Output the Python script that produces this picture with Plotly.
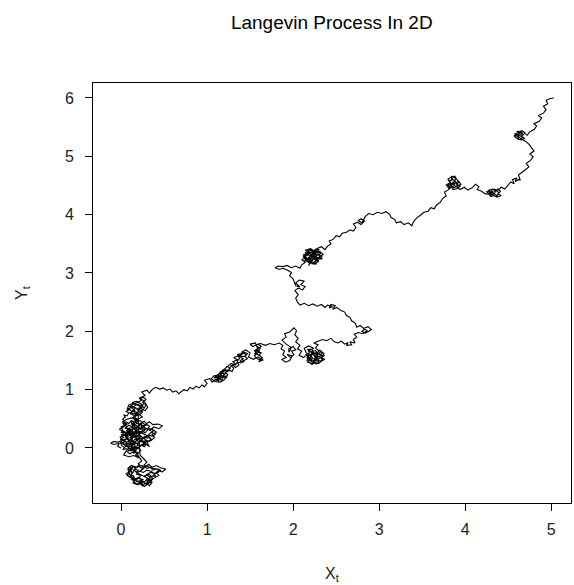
import plotly.graph_objects as go

# Path, split into segments of (x, y) in data units
seg_a = [(0.00,0.00),(-0.04,0.03),(-0.02,0.08),(-0.08,0.06),(-0.12,0.08),(-0.09,0.11),(-0.03,0.10),(0.02,0.14),(-0.01,0.19),(0.04,0.22),(0.01,0.27),(0.07,0.25),(0.10,0.30),(0.05,0.34),(0.09,0.39),(0.14,0.36),(0.12,0.44),(0.17,0.47),(0.13,0.52),(0.06,0.49),(0.02,0.45),(0.07,0.41),(0.03,0.36),(-0.02,0.32),(0.03,0.28),(0.08,0.20),(0.13,0.24),(0.17,0.18),(0.22,0.22),(0.20,0.29),(0.26,0.27),(0.29,0.34),(0.34,0.30),(0.38,0.36),(0.44,0.33),(0.48,0.38),(0.43,0.41),(0.37,0.40),(0.33,0.45),(0.28,0.40),(0.24,0.44),(0.21,0.37),(0.16,0.31),(0.19,0.25),(0.25,0.18),(0.31,0.21),(0.35,0.14),(0.29,0.10),(0.24,0.13),(0.20,0.07),(0.15,0.11),(0.11,0.05),(0.06,0.08),(0.08,0.01),(0.13,-0.03),(0.18,0.02),(0.23,-0.04),(0.20,-0.09),(0.15,-0.06),(0.10,-0.10),(0.06,-0.05),(0.03,-0.12),(0.09,-0.15),(0.15,-0.13),(0.21,-0.17)]

seg_a2 = [(0.17,-0.12),(0.19,-0.07),(0.14,-0.09),(0.16,-0.03),(0.11,-0.05),(0.13,0.01),(0.08,-0.02),(0.10,0.04),(0.05,0.02),(0.07,0.08),(0.02,0.06),(0.04,0.12),(-0.01,0.15),(0.03,0.18),(0.00,0.23),(0.05,0.21),(0.09,0.26),(0.06,0.30),(0.11,0.28),(0.08,0.34),(0.13,0.31),(0.16,0.37),(0.12,0.41),(0.17,0.44),(0.21,0.40),(0.18,0.35),(0.23,0.32),(0.26,0.37),(0.22,0.42),(0.27,0.46),(0.30,0.41),(0.26,0.36),(0.31,0.31),(0.28,0.26),(0.24,0.29),(0.20,0.24),(0.23,0.19),(0.18,0.16),(0.14,0.21),(0.17,0.26),(0.12,0.29),(0.09,0.24),(0.13,0.18),(0.10,0.13),(0.15,0.09),(0.19,0.14),(0.16,0.19),(0.21,0.23),(0.25,0.18),(0.22,0.12),(0.27,0.09),(0.24,0.04),(0.29,0.07),(0.33,0.02),(0.30,0.10),(0.35,0.13),(0.39,0.18),(0.36,0.23),(0.41,0.27),(0.38,0.31),(0.34,0.26),(0.31,0.21),(0.27,0.16),(0.30,0.11),(0.25,0.06),(0.21,0.03),(0.18,0.08),(0.14,0.05),(0.11,0.10),(0.07,0.07),(0.04,0.13),(0.08,0.17),(0.05,0.22),(0.10,0.25),(0.14,0.20),(0.11,0.15),(0.16,0.09),(0.12,0.03),(0.18,-0.02)]

seg_a3 = [(0.02,0.50),(0.05,0.53),(0.03,0.57),(0.07,0.55),(0.09,0.60),(0.06,0.63),(0.10,0.66),(0.13,0.62),(0.11,0.58),(0.15,0.60),(0.18,0.57),(0.16,0.52),(0.20,0.49),(0.18,0.45),(0.22,0.47),(0.25,0.44),(0.23,0.40),(0.27,0.38),(0.30,0.40),(0.33,0.37),(0.31,0.33),(0.35,0.33),(0.38,0.30),(0.36,0.26),(0.40,0.24),(0.37,0.20),(0.33,0.22),(0.31,0.17),(0.27,0.19),(0.25,0.15),(0.21,0.17),(0.19,0.13),(0.16,0.15),(0.14,0.11),(0.10,0.13),(0.07,0.10),(0.04,0.12),(0.02,0.08),(-0.01,0.10),(0.01,0.04),(0.04,0.01),(0.02,-0.03),(0.06,-0.01),(0.09,-0.05),(0.12,-0.01),(0.15,0.02),(0.18,-0.02),(0.21,0.01),(0.24,0.05),(0.27,0.02),(0.29,0.06),(0.26,0.10),(0.29,0.14),(0.32,0.11),(0.35,0.15),(0.33,0.19),(0.28,0.23),(0.25,0.26),(0.21,0.28),(0.18,0.25),(0.15,0.28),(0.12,0.25),(0.09,0.29),(0.06,0.26),(0.03,0.29),(0.00,0.26),(0.02,0.31),(0.00,0.36),(0.04,0.39),(0.02,0.43),(0.06,0.45),(0.09,0.42),(0.12,0.47),(0.15,0.44),(0.13,0.39),(0.17,0.40),(0.19,0.35),(0.15,0.33),(0.12,0.35),(0.08,0.33),(0.11,0.30),(0.15,0.24),(0.18,0.20),(0.22,0.24),(0.25,0.30),(0.28,0.33),(0.24,0.36),(0.20,0.32),(0.17,0.29),(0.12,0.19),(0.08,0.16),(0.05,0.19),(0.08,0.23),(0.04,0.23)]

seg_b = [(0.24,-0.22),(0.20,-0.27),(0.23,-0.31),(0.17,-0.33),(0.12,-0.30),(0.08,-0.35),(0.11,-0.40),(0.06,-0.44),(0.09,-0.49),(0.14,-0.47),(0.16,-0.53),(0.21,-0.50),(0.24,-0.56),(0.20,-0.60),(0.25,-0.63),(0.30,-0.60),(0.33,-0.65),(0.36,-0.59),(0.31,-0.55),(0.34,-0.50),(0.29,-0.46),(0.34,-0.42),(0.40,-0.44),(0.43,-0.39),(0.48,-0.41),(0.52,-0.36),(0.46,-0.34),(0.41,-0.30),(0.36,-0.33),(0.32,-0.28),(0.28,-0.33),(0.24,-0.38),(0.19,-0.42),(0.15,-0.38),(0.13,-0.44)]

seg_b3 = [(0.10,-0.33),(0.13,-0.36),(0.10,-0.40),(0.14,-0.42),(0.11,-0.46),(0.15,-0.49),(0.12,-0.53),(0.16,-0.55),(0.19,-0.52),(0.18,-0.58),(0.22,-0.56),(0.23,-0.61),(0.26,-0.58),(0.29,-0.62),(0.31,-0.57),(0.34,-0.60),(0.33,-0.54),(0.37,-0.53),(0.35,-0.49),(0.40,-0.48),(0.38,-0.43),(0.43,-0.42),(0.46,-0.38),(0.42,-0.36),(0.37,-0.38),(0.34,-0.33),(0.30,-0.35),(0.27,-0.31),(0.23,-0.34),(0.20,-0.30),(0.17,-0.35),(0.14,-0.32),(0.11,-0.37),(0.08,-0.38),(0.10,-0.43),(0.07,-0.47),(0.11,-0.50),(0.14,-0.56),(0.18,-0.62),(0.21,-0.59),(0.25,-0.65),(0.28,-0.60),(0.32,-0.63),(0.30,-0.56),(0.36,-0.56)]

seg_b2 = [(0.17,-0.41),(0.15,-0.36),(0.20,-0.38),(0.18,-0.45),(0.23,-0.47),(0.20,-0.52),(0.26,-0.54),(0.22,-0.58),(0.28,-0.57),(0.31,-0.52),(0.27,-0.48),(0.32,-0.45),(0.36,-0.49),(0.39,-0.45),(0.35,-0.40),(0.30,-0.38),(0.26,-0.42),(0.22,-0.40),(0.25,-0.35),(0.29,-0.32),(0.24,-0.30),(0.19,-0.33),(0.14,-0.31),(0.11,-0.36),(0.09,-0.42),(0.12,-0.50),(0.17,-0.55),(0.14,-0.60),(0.19,-0.63),(0.24,-0.61),(0.27,-0.66),(0.31,-0.62),(0.35,-0.56),(0.38,-0.52),(0.44,-0.47),(0.41,-0.42),(0.45,-0.37),(0.39,-0.36),(0.34,-0.34),(0.27,-0.29),(0.30,-0.24),(0.26,-0.18),(0.22,-0.12)]

seg_c2 = [(0.20,0.55),(0.17,0.60),(0.21,0.63),(0.18,0.67),(0.23,0.70),(0.20,0.75),(0.16,0.73),(0.13,0.68),(0.10,0.71),(0.14,0.75),(0.19,0.78),(0.24,0.82),(0.21,0.85),(0.26,0.87),(0.29,0.83),(0.25,0.78),(0.29,0.74),(0.26,0.66),(0.22,0.61),(0.17,0.58),(0.14,0.52),(0.18,0.48),(0.15,0.40),(0.19,0.30),(0.17,0.20),(0.20,0.10)]

seg_c = [(0.17,-0.05),(0.12,0.02),(0.05,0.04),(0.00,0.12),(0.06,0.16),(0.11,0.13),(0.15,0.19),(0.10,0.24),(0.14,0.32),(0.20,0.35),(0.25,0.32),(0.23,0.40),(0.18,0.42),(0.20,0.50),(0.25,0.53),(0.20,0.58),(0.15,0.56),(0.10,0.60),(0.16,0.64),(0.12,0.70),(0.07,0.66),(0.09,0.74),(0.15,0.77),(0.12,0.72),(0.17,0.69),(0.13,0.63),(0.19,0.61),(0.16,0.55),(0.22,0.57),(0.25,0.62),(0.21,0.66),(0.26,0.70),(0.23,0.76),(0.18,0.80),(0.13,0.78),(0.21,0.72),(0.26,0.75),(0.22,0.68),(0.28,0.64),(0.31,0.70),(0.27,0.80),(0.22,0.86),(0.28,0.90),(0.24,0.96),(0.30,0.99),(0.33,0.94)]

seg_d = [(0.36,1.00),(0.40,1.04),(0.45,1.01),(0.49,1.03),(0.53,0.99),(0.57,1.01),(0.60,0.96),(0.64,0.98),(0.67,0.93),(0.70,0.96),(0.73,1.00),(0.77,0.98),(0.80,1.04),(0.84,1.01),(0.87,1.06),(0.91,1.03),(0.94,1.08),(0.97,1.05),(1.00,1.11),(0.97,1.16),(1.03,1.19),(1.06,1.13),(1.10,1.18),(1.14,1.15),(1.11,1.21),(1.16,1.19),(1.13,1.25),(1.18,1.23),(1.15,1.29),(1.21,1.27),(1.18,1.21),(1.23,1.24),(1.20,1.17),(1.15,1.13),(1.09,1.14),(1.05,1.19),(1.08,1.24),(1.13,1.25),(1.17,1.21),(1.20,1.27),(1.15,1.30),(1.19,1.34),(1.24,1.31),(1.27,1.37),(1.23,1.40)]

seg_d2 = [(1.10,1.15),(1.13,1.19),(1.17,1.16),(1.19,1.22),(1.22,1.20),(1.24,1.26),(1.21,1.30),(1.26,1.33),(1.29,1.31),(1.31,1.37),(1.28,1.41),(1.33,1.44),(1.30,1.48),(1.34,1.51),(1.38,1.53),(1.36,1.58),(1.40,1.60),(1.43,1.64),(1.47,1.62),(1.44,1.57),(1.47,1.53),(1.43,1.50),(1.39,1.46),(1.35,1.47),(1.37,1.42),(1.33,1.38),(1.30,1.42),(1.26,1.38),(1.25,1.33),(1.21,1.34),(1.18,1.29),(1.14,1.27),(1.12,1.22),(1.08,1.20)]

seg_e = [(1.28,1.45),(1.33,1.42),(1.36,1.50),(1.31,1.55),(1.37,1.58),(1.42,1.53),(1.38,1.49),(1.43,1.47),(1.40,1.55),(1.35,1.60),(1.41,1.62),(1.38,1.57),(1.44,1.57),(1.46,1.60),(1.40,1.64),(1.45,1.68),(1.50,1.63),(1.48,1.56),(1.54,1.52),(1.59,1.56),(1.63,1.52),(1.60,1.48),(1.65,1.51),(1.62,1.58),(1.57,1.61),(1.61,1.67),(1.56,1.66),(1.60,1.72),(1.55,1.61),(1.61,1.64),(1.58,1.70),(1.63,1.74),(1.59,1.78),(1.53,1.74),(1.50,1.78),(1.56,1.80)]

seg_e2 = [(1.58,1.74),(1.62,1.71),(1.59,1.66),(1.63,1.63),(1.60,1.59),(1.64,1.55),(1.61,1.51),(1.57,1.54),(1.55,1.58),(1.58,1.62),(1.55,1.67),(1.59,1.70),(1.57,1.77)]

seg_f = [(1.62,1.79),(1.68,1.76),(1.73,1.79),(1.78,1.77),(1.84,1.80),(1.88,1.76),(1.86,1.70),(1.90,1.66),(1.88,1.60),(1.92,1.55),(1.87,1.52),(1.91,1.47),(1.96,1.50),(1.99,1.58),(1.93,1.60),(1.97,1.55),(2.01,1.60),(1.98,1.66),(2.03,1.68),(2.00,1.74),(1.95,1.70),(1.95,1.64),(1.98,1.72),(1.92,1.78),(1.87,1.85),(1.92,1.90),(1.90,1.96),(1.96,1.99),(2.01,2.06),(2.04,2.01),(2.02,1.94),(2.06,1.88),(2.03,1.82),(2.08,1.76),(2.05,1.70),(2.10,1.66),(2.07,1.59),(2.12,1.55),(2.16,1.60),(2.20,1.53),(2.17,1.47),(2.22,1.45),(2.26,1.50),(2.30,1.48),(2.28,1.55),(2.33,1.59),(2.27,1.63),(2.22,1.60),(2.18,1.52),(2.23,1.49),(2.27,1.54),(2.24,1.58),(2.30,1.57),(2.34,1.52),(2.31,1.46),(2.27,1.44),(2.21,1.48),(2.16,1.55),(2.19,1.60),(2.25,1.63),(2.29,1.61),(2.32,1.65),(2.36,1.62),(2.33,1.56),(2.29,1.52),(2.19,1.67),(2.24,1.71),(2.18,1.75),(2.13,1.71),(2.15,1.64),(2.21,1.57)]

seg_f2 = [(2.20,1.50),(2.23,1.54),(2.20,1.58),(2.24,1.61),(2.21,1.65),(2.26,1.67),(2.28,1.63),(2.31,1.68),(2.34,1.64),(2.32,1.60),(2.36,1.58),(2.33,1.54),(2.37,1.52),(2.33,1.49),(2.29,1.50),(2.30,1.45),(2.25,1.47),(2.22,1.43),(2.19,1.47),(2.16,1.50),(2.18,1.56),(2.15,1.60),(2.19,1.63),(2.17,1.69),(2.22,1.69),(2.25,1.58),(2.28,1.56),(2.27,1.51),(2.24,1.52),(2.29,1.59),(2.26,1.60),(2.30,1.66),(2.26,1.72),(2.29,1.77),(2.24,1.80)]

seg_g = [(2.29,1.83),(2.34,1.86),(2.39,1.84),(2.44,1.88),(2.48,1.82),(2.52,1.80),(2.56,1.83),(2.60,1.78),(2.64,1.81),(2.62,1.76),(2.68,1.77),(2.66,1.82),(2.72,1.80),(2.70,1.86),(2.74,1.90),(2.71,1.95),(2.76,1.98),(2.81,1.96),(2.86,2.01),(2.83,2.04),(2.80,2.00),(2.84,1.97),(2.88,2.00),(2.91,2.03),(2.87,2.08),(2.82,2.05),(2.78,2.10),(2.74,2.07),(2.72,2.14),(2.68,2.18),(2.66,2.24),(2.62,2.27),(2.60,2.33),(2.55,2.36),(2.51,2.41),(2.46,2.38),(2.49,2.44),(2.44,2.46),(2.42,2.40),(2.46,2.42),(2.40,2.45),(2.37,2.41),(2.33,2.46),(2.28,2.43),(2.23,2.47),(2.18,2.44),(2.13,2.48),(2.08,2.45),(2.05,2.50)]

seg_h = [(2.03,2.57),(2.06,2.63),(2.02,2.70),(2.06,2.74),(2.11,2.71),(2.14,2.77),(2.09,2.80),(2.13,2.86),(2.07,2.88),(2.03,2.83),(2.08,2.76),(2.03,2.78),(2.00,2.90),(1.96,2.95),(1.98,3.01),(1.93,3.05),(1.88,3.08),(1.84,3.06),(1.79,3.09),(1.83,3.12),(1.88,3.11),(1.93,3.13),(1.98,3.09),(2.03,3.12),(2.08,3.08),(2.10,3.14)]

seg_i = [(2.14,3.18),(2.10,3.23),(2.16,3.26),(2.12,3.31),(2.18,3.35),(2.14,3.39),(2.20,3.42),(2.25,3.38),(2.22,3.33),(2.28,3.30),(2.24,3.24),(2.30,3.21),(2.26,3.16),(2.20,3.19),(2.18,3.13),(2.23,3.22),(2.19,3.28),(2.25,3.34),(2.31,3.37),(2.35,3.32),(2.30,3.27),(2.34,3.24),(2.17,3.24),(2.21,3.21),(2.25,3.26),(2.21,3.30),(2.27,3.35),(2.23,3.39),(2.18,3.37),(2.15,3.33),(2.20,3.29),(2.26,3.28),(2.29,3.33),(2.32,3.29),(2.28,3.24),(2.23,3.17),(2.16,3.21),(2.12,3.27),(2.17,3.31),(2.22,3.36),(2.28,3.39)]

seg_i2 = [(2.13,3.20),(2.15,3.24),(2.12,3.29),(2.16,3.30),(2.14,3.35),(2.19,3.33),(2.17,3.39),(2.21,3.40),(2.24,3.36),(2.26,3.41),(2.30,3.40),(2.28,3.36),(2.32,3.34),(2.30,3.30),(2.34,3.28),(2.31,3.25),(2.27,3.27),(2.29,3.21),(2.25,3.20),(2.27,3.15),(2.22,3.16),(2.20,3.22),(2.18,3.18),(2.15,3.21),(2.19,3.25),(2.22,3.27),(2.20,3.32),(2.24,3.31),(2.26,3.24),(2.23,3.29),(2.27,3.32),(2.25,3.38),(2.21,3.35),(2.17,3.35),(2.14,3.27),(2.18,3.22),(2.23,3.25),(2.28,3.42),(2.33,3.45),(2.37,3.40),(2.40,3.46)]

seg_j = [(2.44,3.50),(2.42,3.55),(2.47,3.58),(2.50,3.64),(2.54,3.62),(2.57,3.68),(2.62,3.70),(2.66,3.74),(2.70,3.72),(2.73,3.78),(2.70,3.84),(2.75,3.87),(2.79,3.83),(2.83,3.89),(2.79,3.93),(2.76,3.90),(2.80,3.86),(2.84,3.97),(2.88,4.02),(2.93,4.00),(2.98,4.04),(3.03,4.02),(3.08,4.05),(3.12,4.01),(3.14,3.95),(3.18,3.92),(3.20,3.86),(3.25,3.88),(3.29,3.83),(3.34,3.86),(3.38,3.81),(3.40,3.88),(3.44,3.95),(3.48,3.99),(3.52,4.04),(3.57,4.06),(3.60,4.12),(3.64,4.10),(3.67,4.17),(3.71,4.21),(3.74,4.28),(3.78,4.32),(3.76,4.39)]

seg_k2 = [(3.80,4.42),(3.83,4.46),(3.80,4.50),(3.84,4.53),(3.81,4.58),(3.86,4.60),(3.84,4.64),(3.88,4.66),(3.90,4.61),(3.93,4.56),(3.90,4.52),(3.94,4.49),(3.91,4.45),(3.86,4.43),(3.84,4.48),(3.88,4.50),(3.86,4.56)]

seg_k = [(3.81,4.45),(3.78,4.51),(3.83,4.55),(3.80,4.61),(3.85,4.66),(3.89,4.62),(3.87,4.55),(3.83,4.50),(3.87,4.46),(3.91,4.50),(3.88,4.58),(3.84,4.61),(3.82,4.55),(3.86,4.52),(3.90,4.55),(3.92,4.58),(3.95,4.52),(3.90,4.48),(3.94,4.43),(3.99,4.47),(4.03,4.42),(4.08,4.46),(4.12,4.52),(4.16,4.48),(4.14,4.43),(4.19,4.40),(4.23,4.36)]

seg_k3 = [(4.26,4.35),(4.30,4.38),(4.27,4.42),(4.32,4.44),(4.35,4.40),(4.38,4.44),(4.41,4.40),(4.38,4.35),(4.42,4.33),(4.37,4.30),(4.33,4.33),(4.30,4.31),(4.27,4.36),(4.34,4.37)]

seg_k4 = [(4.27,4.40),(4.31,4.34),(4.28,4.37),(4.32,4.40),(4.29,4.43),(4.25,4.39),(4.29,4.33),(4.34,4.36),(4.37,4.32),(4.39,4.38),(4.35,4.42),(4.35,4.38),(4.33,4.44),(4.38,4.42),(4.42,4.47),(4.46,4.44),(4.50,4.50),(4.53,4.56),(4.57,4.53),(4.55,4.60),(4.60,4.63),(4.58,4.57),(4.62,4.60),(4.64,4.59),(4.62,4.68),(4.66,4.72)]

seg_l = [(4.70,4.77),(4.74,4.82),(4.71,4.88),(4.76,4.93),(4.79,4.99),(4.75,5.04),(4.80,5.09),(4.77,5.15),(4.74,5.21),(4.70,5.26),(4.65,5.30),(4.61,5.35),(4.66,5.38),(4.62,5.43)]

seg_l2 = [(4.62,5.32),(4.59,5.36),(4.63,5.39),(4.60,5.43),(4.65,5.42),(4.68,5.37),(4.65,5.34),(4.69,5.31),(4.66,5.28),(4.62,5.29),(4.58,5.33)]

seg_l3 = [(4.58,5.39),(4.63,5.36),(4.67,5.33),(4.64,5.29),(4.60,5.31),(4.57,5.35),(4.61,5.41),(4.66,5.44),(4.70,5.40),(4.68,5.41),(4.72,5.36),(4.75,5.42),(4.80,5.46),(4.83,5.52),(4.80,5.56),(4.86,5.60),(4.89,5.66),(4.85,5.70),(4.91,5.74),(4.94,5.80),(4.91,5.86),(4.96,5.90),(4.94,5.96),(4.99,5.99),(5.03,6.00)]

x_ticks = [0, 1, 2, 3, 4, 5]
y_ticks = [0, 1, 2, 3, 4, 5, 6]

segments = [seg_a, seg_a2, seg_a3, seg_b, seg_b3, seg_b2, seg_c2, seg_c, seg_d,
            seg_d2, seg_e, seg_e2, seg_f, seg_f2, seg_g, seg_h, seg_i, seg_i2,
            seg_j, seg_k2, seg_k, seg_k3, seg_k4, seg_l, seg_l2, seg_l3]
xs = [p[0] for s in segments for p in s]
ys = [p[1] for s in segments for p in s]

FONT = "Liberation Sans, Arial, sans-serif"

fig = go.Figure()
fig.add_trace(go.Scatter(x=xs, y=ys, mode="lines",
                         line=dict(color="black", width=1.1),
                         hoverinfo="skip", showlegend=False))

axis_common = dict(showgrid=False, zeroline=False, showline=True, mirror=True,
                   linecolor="black", linewidth=1, ticks="outside", ticklen=7,
                   tickcolor="black", tickwidth=1,
                   tickfont=dict(family=FONT, size=16, color="#222"))

fig.update_layout(
    width=574, height=585,
    margin=dict(l=93, r=3, t=83, b=82),
    paper_bgcolor="white", plot_bgcolor="white",
    title=dict(text="Langevin Process In 2D", x=0.578, xanchor="center",
               y=1 - 22 / 585, yanchor="middle",
               font=dict(family=FONT, size=19, color="black")),
    xaxis=dict(range=[-0.326, 5.23], tickvals=x_ticks,
               ticktext=[str(v) for v in x_ticks], ticklabelstandoff=5,
               **axis_common),
    yaxis=dict(range=[-0.943, 6.257], tickvals=y_ticks,
               ticktext=[str(v) for v in y_ticks], ticklabelstandoff=8,
               **axis_common),
    annotations=[
        dict(text="X<sub>t</sub>", xref="paper", yref="paper", x=0.5, y=-0.171,
             xanchor="center", yanchor="middle", showarrow=False,
             font=dict(family=FONT, size=16, color="#222")),
        dict(text="Y<sub>t</sub>", xref="paper", yref="paper", x=-0.1485, y=0.5,
             xanchor="center", yanchor="middle", showarrow=False, textangle=-90,
             font=dict(family=FONT, size=16, color="#222")),
    ],
)

fig.write_html("out.html")
